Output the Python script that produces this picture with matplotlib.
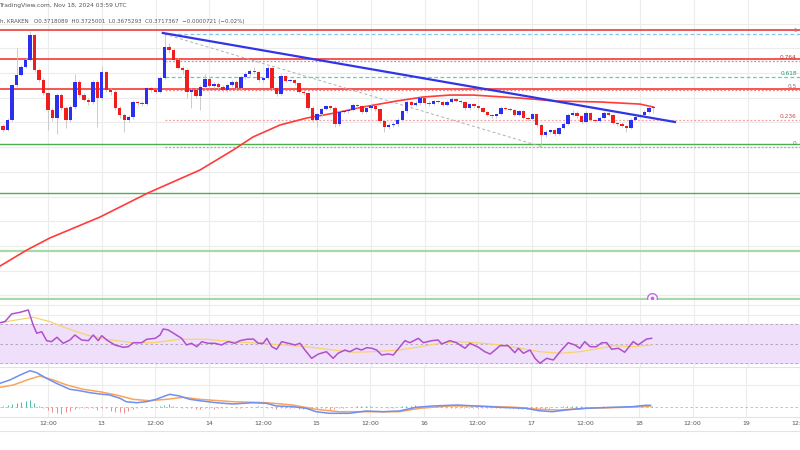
import numpy as np
import matplotlib.pyplot as plt
from matplotlib.lines import Line2D

# hourly candles, KRAKEN, Nov 12 02:00 -> Nov 18 03:00 UTC (x = hours after Nov 12 00:00)
first_open = 0.3571
closes = [0.3539, 0.3620, 0.3903, 0.3984, 0.4049, 0.4106, 0.4308, 0.4025, 0.3944, 0.3839,
          0.3701, 0.3636, 0.3822, 0.3717, 0.3620, 0.3725, 0.3928, 0.3822, 0.3782, 0.3766,
          0.3928, 0.3798, 0.4009, 0.3863, 0.3847, 0.3717, 0.3660, 0.3620, 0.3644, 0.3766,
          0.3758, 0.3749, 0.3879, 0.3863, 0.3847, 0.3960, 0.4211, 0.4187, 0.4106, 0.4041,
          0.4025, 0.3847, 0.3863, 0.3814, 0.3887, 0.3952, 0.3895, 0.3911, 0.3887, 0.3863,
          0.3903, 0.3928, 0.3879, 0.3968, 0.3992, 0.4017, 0.4009, 0.3944, 0.3960, 0.4041,
          0.3879, 0.3830, 0.3976, 0.3936, 0.3944, 0.3920, 0.3847, 0.3839, 0.3717, 0.3620,
          0.3668, 0.3709, 0.3733, 0.3717, 0.3587, 0.3685, 0.3693, 0.3701, 0.3741, 0.3733,
          0.3685, 0.3717, 0.3733, 0.3709, 0.3612, 0.3563, 0.3579, 0.3587, 0.3620, 0.3693,
          0.3766, 0.3741, 0.3758, 0.3798, 0.3758, 0.3749, 0.3774, 0.3766, 0.3741, 0.3766,
          0.3790, 0.3774, 0.3766, 0.3717, 0.3749, 0.3733, 0.3717, 0.3685, 0.3660, 0.3652,
          0.3668, 0.3717, 0.3709, 0.3701, 0.3660, 0.3693, 0.3636, 0.3628, 0.3668, 0.3579,
          0.3498, 0.3523, 0.3539, 0.3506, 0.3555, 0.3587, 0.3660, 0.3677, 0.3652, 0.3604,
          0.3677, 0.3620, 0.3612, 0.3636, 0.3677, 0.3660, 0.3596, 0.3587, 0.3571, 0.3555,
          0.3620, 0.3644, 0.3660, 0.3685, 0.3718089, 0.3717367]
highs = [0.3590, 0.3635, 0.3915, 0.4203, 0.4065, 0.4120, 0.4341, 0.4320, 0.4040, 0.3960,
         0.3850, 0.3715, 0.3840, 0.3835, 0.3730, 0.3740, 0.3990, 0.3940, 0.3835, 0.3795,
         0.3945, 0.3940, 0.4060, 0.4020, 0.3880, 0.3860, 0.3730, 0.3675, 0.3660, 0.3780,
         0.3775, 0.3770, 0.3890, 0.3890, 0.3875, 0.3975, 0.4316, 0.4240, 0.4200, 0.4120,
         0.4055, 0.4040, 0.3880, 0.3880, 0.3900, 0.3990, 0.3965, 0.3925, 0.3925, 0.3900,
         0.3915, 0.3940, 0.3940, 0.3980, 0.4010, 0.4030, 0.4050, 0.4020, 0.3975, 0.4060,
         0.4050, 0.3890, 0.3990, 0.3985, 0.3955, 0.3955, 0.3930, 0.3860, 0.3850, 0.3730,
         0.3680, 0.3720, 0.3745, 0.3745, 0.3730, 0.3700, 0.3705, 0.3715, 0.3755, 0.3750,
         0.3745, 0.3730, 0.3745, 0.3745, 0.3720, 0.3620, 0.3595, 0.3600, 0.3635, 0.3705,
         0.3780, 0.3775, 0.3770, 0.3810, 0.3810, 0.3770, 0.3785, 0.3785, 0.3775, 0.3780,
         0.3805, 0.3800, 0.3785, 0.3775, 0.3760, 0.3760, 0.3745, 0.3725, 0.3695, 0.3670,
         0.3680, 0.3730, 0.3725, 0.3720, 0.3710, 0.3705, 0.3700, 0.3645, 0.3680, 0.3675,
         0.3585, 0.3535, 0.3550, 0.3550, 0.3565, 0.3600, 0.3675, 0.3700, 0.3690, 0.3660,
         0.3690, 0.3685, 0.3630, 0.3650, 0.3690, 0.3690, 0.3670, 0.3605, 0.3600, 0.3580,
         0.3635, 0.3655, 0.3670, 0.3700, 0.3730, 0.3725001]
lows = [0.3520, 0.3530, 0.3610, 0.3890, 0.3975, 0.4040, 0.4095, 0.4010, 0.3930, 0.3820,
        0.3540, 0.3610, 0.3506, 0.3700, 0.3555, 0.3600, 0.3710, 0.3810, 0.3770, 0.3740,
        0.3750, 0.3560, 0.3780, 0.3850, 0.3820, 0.3700, 0.3640, 0.3523, 0.3600, 0.3630,
        0.3745, 0.3735, 0.3740, 0.3850, 0.3835, 0.3835, 0.3950, 0.4160, 0.4090, 0.4030,
        0.3990, 0.3800, 0.3717, 0.3800, 0.3700, 0.3875, 0.3880, 0.3880, 0.3870, 0.3850,
        0.3850, 0.3890, 0.3860, 0.3865, 0.3955, 0.3980, 0.3995, 0.3930, 0.3930, 0.3950,
        0.3865, 0.3815, 0.3820, 0.3925, 0.3925, 0.3905, 0.3835, 0.3825, 0.3700, 0.3600,
        0.3560, 0.3655, 0.3700, 0.3705, 0.3560, 0.3575, 0.3675, 0.3680, 0.3690, 0.3720,
        0.3670, 0.3675, 0.3705, 0.3695, 0.3595, 0.3523, 0.3550, 0.3565, 0.3575, 0.3610,
        0.3680, 0.3730, 0.3730, 0.3745, 0.3745, 0.3735, 0.3740, 0.3755, 0.3730, 0.3730,
        0.3755, 0.3765, 0.3755, 0.3705, 0.3705, 0.3720, 0.3705, 0.3675, 0.3650, 0.3640,
        0.3640, 0.3660, 0.3700, 0.3690, 0.3650, 0.3650, 0.3625, 0.3615, 0.3620, 0.3565,
        0.3410, 0.3480, 0.3510, 0.3490, 0.3495, 0.3545, 0.3580, 0.3650, 0.3640, 0.3590,
        0.3595, 0.3610, 0.3600, 0.3600, 0.3625, 0.3650, 0.3585, 0.3575, 0.3560, 0.3523,
        0.3545, 0.3610, 0.3635, 0.3650, 0.3675, 0.3675293]

# red moving average on the price pane
sma_hours = [1.3, 7.3, 12.4, 23.6, 34.3, 45.9, 53.3, 57.7, 63.7, 69.7, 76.0,
             82.2, 89.8, 95.6, 101.6, 106.8, 117.2, 125.0, 135.1, 144.0, 147.0]
sma_vals = [0.2437, 0.2567, 0.2664, 0.2834, 0.3029, 0.3215, 0.3377, 0.3482, 0.3579, 0.3636, 0.3677,
            0.3725, 0.3774, 0.3806, 0.3822, 0.3822, 0.3798, 0.3774, 0.3766, 0.3749, 0.3725]

red_levels = [0.4349, 0.4114, 0.3875]
green_levels = [0.3425, 0.3029, 0.2559, 0.2170]
fib_start, fib_high, fib_end, fib_low = 38.0, 0.4316, 122.0, 0.3405
fib_ratios = [1, 0.764, 0.618, 0.5, 0.236, 0]
fib_labels = ["1", "0.764", "0.618", "0.5", "0.236", "0"]
trend_hours = [37.6, 151.8]
trend_vals = [0.4325, 0.3604]

rsi_hours = [1.3, 2.4, 3.9, 5.8, 7.6, 8.7, 9.5, 10.6, 11.7, 12.8, 14.0, 15.4, 16.9, 18.0, 19.5,
             21.0, 22.1, 23.2, 24.0, 25.1, 26.9, 28.8, 29.9, 31.0, 32.9, 34.0, 35.9, 37.0, 37.7,
             38.8, 40.0, 41.8, 42.9, 44.0, 45.2, 46.3, 47.7, 49.2, 50.7, 52.2, 53.7, 54.8, 56.3,
             57.8, 58.9, 60.0, 60.8, 61.9, 63.0, 64.1, 65.6, 67.1, 68.2, 69.3, 70.8, 72.3, 74.1,
             75.6, 76.7, 78.2, 79.3, 80.8, 81.9, 83.1, 84.2, 85.3, 86.4, 87.9, 89.0, 90.5, 91.6,
             92.7, 94.6, 95.7, 97.6, 99.0, 99.8, 101.6, 103.1, 105.0, 106.1, 108.0, 109.4, 110.6,
             111.7, 112.8, 114.6, 116.1, 116.9, 118.0, 119.5, 120.6, 121.7, 123.2, 124.7, 126.2,
             128.0, 129.5, 130.6, 131.7, 132.9, 134.3, 135.5, 136.6, 137.7, 139.2, 140.6, 142.5,
             143.6, 145.5, 146.6]
rsi_vals = [71.8, 72.9, 80.8, 82.5, 84.9, 69.5, 61.0, 62.6, 53.4, 52.4, 56.9, 50.7, 54.1, 59.2, 54.1,
            53.4, 59.2, 53.4, 58.5, 54.1, 49.0, 46.6, 47.2, 51.3, 51.3, 54.8, 55.8, 59.2, 65.4,
            64.4, 61.0, 55.8, 49.0, 50.7, 47.2, 52.4, 50.7, 50.7, 49.0, 52.4, 50.7, 53.4, 54.8,
            55.1, 50.7, 50.7, 55.8, 47.2, 44.6, 52.4, 50.7, 49.0, 50.7, 43.8, 35.3, 39.7, 42.1,
            35.3, 40.5, 43.8, 42.1, 45.6, 43.8, 46.2, 45.6, 43.8, 38.7, 39.7, 38.7, 47.2, 53.4,
            51.3, 55.8, 51.3, 53.4, 54.1, 50.0, 53.4, 51.3, 45.6, 50.7, 46.6, 42.1, 39.7,
            43.8, 48.3, 48.3, 41.1, 45.6, 40.5, 43.8, 35.3, 30.2, 35.3, 33.6, 42.1,
            51.3, 49.0, 45.6, 52.4, 47.2, 47.2, 51.3, 51.3, 44.6, 45.6, 41.5, 52.4,
            49.0, 55.1, 55.8]
rsi_ma_hours = [1.3, 5.8, 8.7, 12.4, 16.2, 20.6, 25.1, 31.0, 35.4, 41.4, 47.4, 53.3, 59.3, 64.4, 69.7,
                75.6, 80.1, 84.5, 90.5, 95.0, 99.4, 103.1, 107.6, 112.8, 117.2, 121.7, 126.2, 130.6,
                135.1, 138.1, 142.5, 146.6]
rsi_ma_vals = [71.8, 75.3, 77.4, 72.9, 66.1, 59.2, 54.8, 51.3, 51.3, 54.8, 54.8, 52.4, 50.7, 49.0, 47.2,
               43.8, 41.5, 42.1, 43.8, 47.2, 50.7, 52.4, 51.3, 49.0, 45.6, 42.1, 40.5, 42.1,
               45.6, 48.3, 47.2, 49.0]

# MACD pane (units of 1e-4)
macd_hours = [1.3, 3.5, 5.8, 8.0, 9.5, 11.7, 13.9, 16.9, 19.1, 21.4, 23.6, 25.8, 28.1, 29.5, 31.8,
              34.0, 36.2, 37.7, 39.2, 41.4, 43.7, 45.9, 49.6, 53.3, 57.8, 60.8, 63.0, 66.7, 69.7,
              71.9, 74.9, 79.3, 83.1, 86.8, 90.5, 94.2, 97.9, 103.5, 107.6, 112.8, 118.7, 121.7,
              124.7, 127.7, 132.1, 138.1, 142.5, 145.5, 146.6]
macd_vals = [23.7, 27, 32, 36.3, 34.3, 28.7, 23.7, 17.7, 16.3, 14.3, 13, 12, 8.7, 5.3, 4.3,
             5.3, 7.7, 10.3, 12.7, 11, 7.7, 6.3, 4.3, 3, 4.3, 3.7, 1, 0.3, -1.3,
             -4.7, -6.3, -6.3, -4, -4.7, -4, -0.3, 1, 2, 1, -0.3, -1.3, -3.7,
             -4.7, -3, -1.3, -0.3, 0.3, 1.7, 1.7]
signal_hours = [1.3, 4.3, 7.3, 10.2, 13.2, 16.2, 19.9, 23.6, 27.3, 31.0, 34.7, 38.5, 42.2, 45.9, 53.3,
                60.8, 66.7, 71.9, 77.1, 83.1, 90.5, 95.0, 101.6, 107.6, 116.5, 121.7, 126.2, 132.1,
                141.0, 146.6]
signal_vals = [19.7, 22, 27, 31, 27, 22, 17.7, 15.3, 12, 7.7, 6.3, 7.7, 9.7, 7.7, 5.3,
               4.3, 2, -2.3, -4.7, -4.7, -4.7, -1.3, 1, 1, -0.3, -2.3, -3, -1.3,
               -0.3, 1]
hist_vals = [1.5, 2, 3, 4.5, 5.5, 6, 7, 4, 1, -1,
             -3, -5, -6, -7, -5, -4, -2, -1, -1, -1,
             -1, -3, -1, -1, -4, -5, -5, -6, -4, -2,
             -1, 0, .5, .5, .5, 1, 2, 3, 1, 0,
             -.5, -1, -1, -2, -2, -1, -1, -1.5, -1, -.5,
             0, .5, -.5, -1, 0, .5, .5, 1, .5, -1,
             -1, -1.5, -1, -.5, -1, -1, -1.5, -2, -2, -1.5,
             -1.5, -1, -1, -3, -2, -1, -.5, 0, .5, 1,
             1.5, 1.5, 1, .5, .5, 0, -.5, -1, 0, 1,
             1.5, 1.5, 2, 1, 1, .5, 0, .5, 0, -.5,
             -.5, -1, -1, -1, -1, -1, -.5, -1, -1, -1,
             -1, -.5, -.5, -1, -1, -1.5, -2, -2, -2, -2.5,
             -2, -1.5, -1, 0, .5, 1, 1, 1, 1.5, 1,
             .5, .5, .5, .5, 1, .5, 0, .5, .5, .5,
             .5, 1, 1, 1, 1.5, 1.5]

tick_hours = list(range(12, 181, 12))
tick_labels = ["12:00", "13", "12:00", "14", "12:00", "15", "12:00", "16",
               "12:00", "17", "12:00", "18", "12:00", "19", "12:00"]

closes = np.array(closes)
opens = np.r_[first_open, closes[:-1]]
hours = np.arange(2, 2 + len(closes))
hist_hours = np.arange(2, 2 + len(hist_vals))

xmin, xmax = 1.3, 179.7
grid_c = "#ececec"

fig = plt.figure(figsize=(8, 4.5), dpi=100)
ax = fig.add_axes([0, 1 / 3, 1, 2 / 3])
ax_rsi = fig.add_axes([0, 83 / 450, 1, 67 / 450])
ax_macd = fig.add_axes([0, 33 / 450, 1, 50 / 450])

for a in (ax, ax_rsi, ax_macd):
    a.set_xlim(xmin, xmax)
    for s in a.spines.values():
        s.set_visible(False)
    a.tick_params(left=False, labelleft=False, bottom=False, labelbottom=False)
    for h in tick_hours:
        a.axvline(h, color=grid_c, lw=0.8, zorder=0)

# ---- price pane
ax.set_ylim(0.2162, 0.4592)
for p in np.arange(0.22, 0.45, 0.02):
    ax.axhline(p, color=grid_c, lw=0.8, zorder=0)

for lv in red_levels:
    ax.axhline(lv, color="#f23a3a", lw=1.2, zorder=2)
for k, lv in enumerate(green_levels):
    if k < 2:
        ax.axhline(lv, color="#4caf50", lw=1.0, zorder=2)
    else:
        ax.axhline(lv, color="#8fd093", lw=1.6, alpha=0.8, zorder=2)

fib_styles = {1: ("#7ec4ee", (0, (3, 2))), 0.764: ("#f28080", (0, (1.5, 1.5))),
              0.618: ("#5fd2ad", (0, (3, 2))), 0.5: ("#f28080", (0, (1.5, 1.5))),
              0.236: ("#f5a0a0", (0, (1.5, 1.5))), 0: ("#a8a8a8", (0, (1.5, 1.5)))}
fib_text_c = {1: "#6f8fae", 0.764: "#b83a3a", 0.618: "#2a9a78", 0.5: "#777777",
              0.236: "#c05050", 0: "#777777"}
for r, lab in zip(fib_ratios, fib_labels):
    lv = fib_low + (fib_high - fib_low) * r
    c, ls = fib_styles[r]
    ax.plot([fib_start, xmax], [lv, lv], color=c, ls=ls, lw=0.9, zorder=2)
    ax.text(0.996, lv + 0.0007, lab, transform=ax.get_yaxis_transform(), ha="right",
            va="bottom", fontsize=4.2, color=fib_text_c[r])
ax.plot([fib_start, fib_end], [fib_high, fib_low], color="#b0b0b0", ls=(0, (3, 2.5)),
        lw=0.7, zorder=2)

ax.plot(sma_hours, sma_vals, color="#ff3b3b", lw=1.2, zorder=3)

# candles
up = closes >= opens
body_c = np.where(up, "#2b2ff0", "#f01d1d")
ax.vlines(hours, lows, highs, color="#c4c4c4", lw=0.6, zorder=4)
ax.bar(hours, np.maximum(np.abs(closes - opens), 0.0005), bottom=np.minimum(opens, closes),
       width=0.76, color=body_c, zorder=5)

ax.plot(trend_hours, trend_vals, color="#3035e6", lw=1.6, zorder=6)

ax.plot(146.6, 0.2178, marker="o", ms=7, mfc="white", mec="#c06ee0", mew=1.0, zorder=7)
ax.plot(146.6, 0.2178, marker="o", ms=1.8, color="#c06ee0", zorder=8)

# ---- RSI pane
ax_rsi.set_ylim(26.4, 95.1)
for v in (90, 80, 60, 40):
    ax_rsi.axhline(v, color=grid_c, lw=0.8, zorder=0)
ax_rsi.axhspan(30, 70, color="#efdffb", zorder=1)
for v in (70, 50, 30):
    ax_rsi.axhline(v, color="#a9a3b3", lw=0.6, ls=(0, (3, 3)), zorder=2)
ax_rsi.plot(rsi_ma_hours, rsi_ma_vals, color="#f7d36e", lw=0.9, zorder=3)
ax_rsi.plot(rsi_hours, rsi_vals, color="#b14fcc", lw=1.1, zorder=4)

# ---- MACD pane
ax_macd.set_ylim(-10, 40)
ax_macd.axhline(22, color=grid_c, lw=0.8, zorder=0)
ax_macd.axhline(0, color="#b8b8b8", lw=0.6, ls=(0, (3, 3)), zorder=1)
hist_c = ["#4fb8a8" if v >= 0 else "#f08a8a" for v in hist_vals]
ax_macd.vlines(hist_hours, 0, hist_vals, colors=hist_c, lw=0.7, zorder=2)
ax_macd.plot(signal_hours, signal_vals, color="#f9a45c", lw=1.1, zorder=3)
ax_macd.plot(macd_hours, macd_vals, color="#6f8ff2", lw=1.1, zorder=4)

ax_macd.tick_params(labelbottom=True, length=0, pad=3, labelsize=4.5, labelcolor="#555555")
ax_macd.set_xticks(tick_hours)
ax_macd.set_xticklabels(tick_labels)

# pane separators / bottom rules
for yy in (83 / 450, 33 / 450, 19 / 450):
    fig.add_artist(Line2D([0, 1], [yy, yy], transform=fig.transFigure, color="#e3e3e3", lw=0.8))

# legend header
fig.text(-0.001, 1 - 5 / 450, "TradingView.com, Nov 18, 2024 03:59 UTC", fontsize=4.3,
         color="#555555", va="center", ha="left")
fig.text(0.0, 1 - 22 / 450,
         "h, KRAKEN   O0.3718089  H0.3725001  L0.3675293  C0.3717367  \u22120.0000721 (\u22120.02%)",
         fontsize=4.0, color="#555555", va="center", ha="left")

fig.savefig("out.png", dpi=100)
